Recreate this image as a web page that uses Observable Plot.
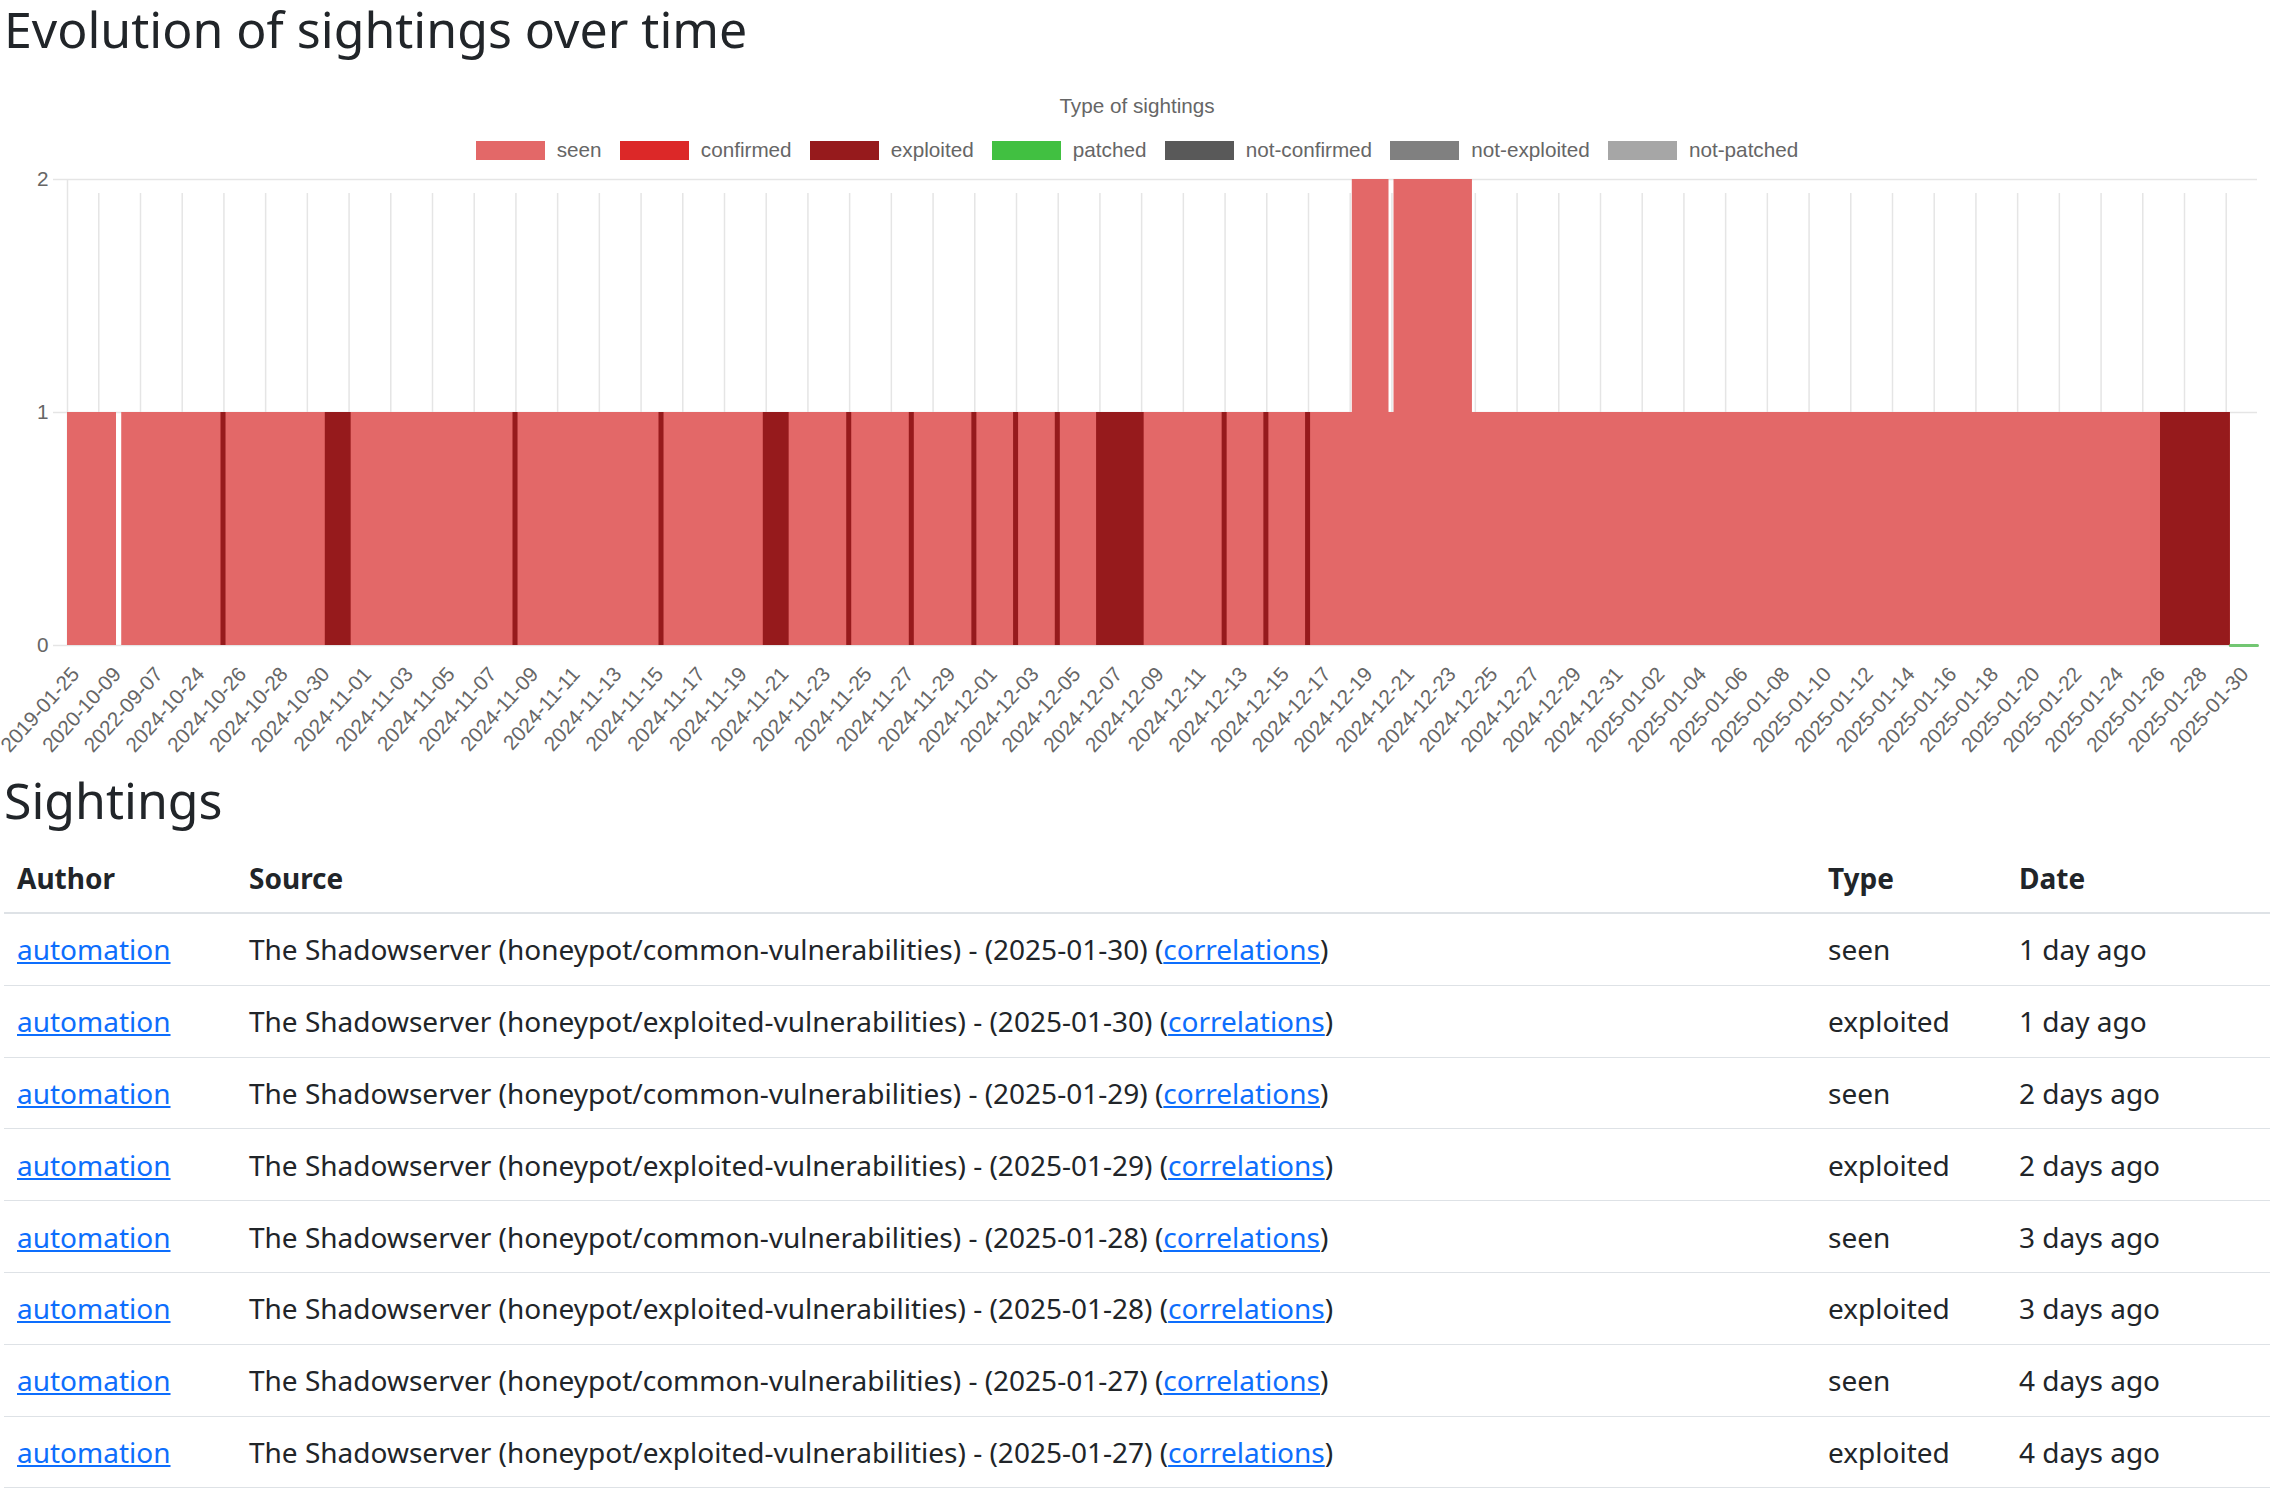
<!DOCTYPE html>
<html>
<head>
<meta charset="utf-8">
<script src="https://cdn.jsdelivr.net/npm/d3@7"></script>
<script src="https://cdn.jsdelivr.net/npm/@observablehq/plot@0.6"></script>
<style>
  html, body { margin: 0; padding: 0; background: #fff; overflow: hidden; }
  body { width: 2282px; height: 1501px; position: relative; font-family: "Noto Sans", sans-serif; color: #212529; }
  .h { position: absolute; left: 4px; margin: 0; font-weight: 400; font-size: 50px; line-height: 1.1; color: #212529; white-space: nowrap; }
  #legend-title { position: absolute; left: 0; width: 2274px; top: 94px; text-align: center;
    font-family: "Liberation Sans", Arial, sans-serif; font-size: 20.7px; line-height: 24px; color: #666; }
  #legend { position: absolute; left: 0; width: 2274px; top: 138px; height: 24px; display: flex; justify-content: center; align-items: center;
    font-family: "Liberation Sans", Arial, sans-serif; font-size: 20.7px; color: #666; }
  .item { display: flex; align-items: center; margin: 0 9.1px; }
  .box { width: 69px; height: 19px; margin-right: 12px; box-sizing: border-box; }
  #chart { position: absolute; left: 0; top: 170px; }
  .row { position: absolute; left: 4px; width: 2266px; height: 71.8px; box-sizing: border-box; border-bottom: 1px solid #dee2e6; font-size: 28px; }
  .row.head { border-bottom: 2px solid #dee2e6; font-weight: 700; height: 71px; }
  .cell { position: absolute; top: 0; height: 100%; display: flex; align-items: center; white-space: nowrap; }
  a { color: #0d6efd; text-decoration: underline; }
</style>
</head>
<body>
<div class="h" id="title" style="top:2px">Evolution of sightings over time</div>
<div id="legend-title">Type of sightings</div>
<div id="legend"></div>
<div id="chart"></div>
<div class="h" id="sightings" style="top:773px">Sightings</div>
<div id="table"></div>
<script>
// ---------- chart data ----------
// Printed x labels: one every other category (category index = 2 * position in this list)
const tickLabels = [
  "2019-01-25","2020-10-09","2022-09-07","2024-10-24","2024-10-26","2024-10-28","2024-10-30",
  "2024-11-01","2024-11-03","2024-11-05","2024-11-07","2024-11-09","2024-11-11","2024-11-13",
  "2024-11-15","2024-11-17","2024-11-19","2024-11-21","2024-11-23","2024-11-25","2024-11-27",
  "2024-11-29","2024-12-01","2024-12-03","2024-12-05","2024-12-07","2024-12-09","2024-12-11",
  "2024-12-13","2024-12-15","2024-12-17","2024-12-19","2024-12-21","2024-12-23","2024-12-25",
  "2024-12-27","2024-12-29","2024-12-31","2025-01-02","2025-01-04","2025-01-06","2025-01-08",
  "2025-01-10","2025-01-12","2025-01-14","2025-01-16","2025-01-18","2025-01-20","2025-01-22",
  "2025-01-24","2025-01-26","2025-01-28","2025-01-30"
];
// x extent of the chart, in category units
const xDomain = [0.5, 105.5];
const yTicks = [0, 1, 2];

// "seen" sightings: stepped count, each value held until the next break (category units)
const seenSteps = [
  {at: 0.5, count: 1}, {at: 2.85, count: 0}, {at: 3.1, count: 1},
  {at: 62.1, count: 2}, {at: 63.86, count: 1}, {at: 64.1, count: 2},
  {at: 67.86, count: 1}, {at: 104.2, count: 1}
];
// "exploited" sightings: runs where the exploited count (1) is shown
const exploitedRuns = [
  {from: 7.86, to: 8.1, count: 1},   {from: 12.86, to: 14.1, count: 1},
  {from: 21.86, to: 22.1, count: 1}, {from: 28.86, to: 29.1, count: 1},
  {from: 33.86, to: 35.1, count: 1}, {from: 37.86, to: 38.1, count: 1},
  {from: 40.86, to: 41.1, count: 1}, {from: 43.86, to: 44.1, count: 1},
  {from: 45.86, to: 46.1, count: 1}, {from: 47.86, to: 48.1, count: 1},
  {from: 49.84, to: 52.12, count: 1},{from: 55.86, to: 56.1, count: 1},
  {from: 57.86, to: 58.1, count: 1}, {from: 59.86, to: 60.1, count: 1},
  {from: 100.85, to: 104.2, count: 1}
];
// "patched" sightings: zero count, visible past the last sighting
const patchedSteps = [{at: 104.2, count: 0}, {at: 105.5, count: 0}];

const seriesNames  = ["seen","confirmed","exploited","patched","not-confirmed","not-exploited","not-patched"];
const seriesColors = ["#e36868","#dc2828","#961a1c","#41c041","#595959","#808080","#a6a6a6"];
const gridColor = "#e5e5e5";

// ---------- table data ----------
const sightingAuthors = Array(8).fill("automation");
const sightingSources = [
  "The Shadowserver (honeypot/common-vulnerabilities) - (2025-01-30)",
  "The Shadowserver (honeypot/exploited-vulnerabilities) - (2025-01-30)",
  "The Shadowserver (honeypot/common-vulnerabilities) - (2025-01-29)",
  "The Shadowserver (honeypot/exploited-vulnerabilities) - (2025-01-29)",
  "The Shadowserver (honeypot/common-vulnerabilities) - (2025-01-28)",
  "The Shadowserver (honeypot/exploited-vulnerabilities) - (2025-01-28)",
  "The Shadowserver (honeypot/common-vulnerabilities) - (2025-01-27)",
  "The Shadowserver (honeypot/exploited-vulnerabilities) - (2025-01-27)"
];
const sightingTypes = ["seen","exploited","seen","exploited","seen","exploited","seen","exploited"];
const sightingDates = ["1 day ago","1 day ago","2 days ago","2 days ago","3 days ago","3 days ago","4 days ago","4 days ago"];

// ---------- legend ----------
const legend = document.getElementById("legend");
seriesNames.forEach((name, i) => {
  const item = document.createElement("div");
  item.className = "item";
  const box = document.createElement("div");
  box.className = "box";
  box.style.background = seriesColors[i];
  const label = document.createElement("span");
  label.textContent = name;
  item.append(box, label);
  legend.append(item);
});

// ---------- chart ----------
const labelTicks = tickLabels.map((_, k) => 2 * k);
const gridTicks = labelTicks.filter(t => t >= xDomain[0]);
const color = Object.fromEntries(seriesNames.map((n, i) => [n, seriesColors[i]]));

const chart = Plot.plot({
  width: 2282,
  height: 600,
  marginLeft: 67,
  marginRight: 25,
  marginTop: 9,
  marginBottom: 125,
  x: {type: "linear", domain: xDomain, label: null},
  y: {domain: [0, 2], label: null},
  style: {fontFamily: "'Liberation Sans', Arial, sans-serif", fontSize: "20.7px", color: "#666", background: "#fff", overflow: "visible"},
  marks: [
    Plot.ruleY(yTicks, {y: d => d, stroke: gridColor, strokeWidth: 1.5, insetLeft: -14}),
    Plot.ruleX([xDomain[0]], {x: d => d, y1: 0, y2: 2, stroke: gridColor, strokeWidth: 1.5}),
    Plot.ruleX(gridTicks, {x: d => d, y1: 0, y2: 2, stroke: gridColor, strokeWidth: 1.5, insetBottom: -14}),
    Plot.areaY(seenSteps, {x: "at", y1: 0, y2: "count", curve: "step-after", fill: color.seen}),
    Plot.rect(exploitedRuns, {x1: "from", x2: "to", y1: 0, y2: "count", fill: color.exploited}),
    Plot.lineY(patchedSteps, {x: "at", y: "count", stroke: "#72c672", strokeWidth: 3}),
    Plot.axisX({ticks: labelTicks, tickFormat: i => tickLabels[i / 2], tickRotate: -48, tickSize: 0, tickPadding: 25, dx: 18.5, fill: "#666", fontSize: 20.7, label: null}),
    Plot.axisY({ticks: yTicks, tickFormat: d3.format("d"), tickSize: 0, tickPadding: 19, fill: "#666", fontSize: 20.7, label: null})
  ]
});
document.getElementById("chart").append(chart);

// ---------- table ----------
const table = document.getElementById("table");
const colX = [13, 245, 1824, 2015];
function makeRow(top, cells, cls) {
  const row = document.createElement("div");
  row.className = "row" + (cls ? " " + cls : "");
  row.style.top = top + "px";
  cells.forEach((c, j) => {
    const cell = document.createElement("div");
    cell.className = "cell";
    cell.style.left = colX[j] + "px";
    if (typeof c === "string") cell.textContent = c; else cell.append(...c);
    row.append(cell);
  });
  table.append(row);
}
makeRow(843, ["Author", "Source", "Type", "Date"], "head");
sightingSources.forEach((src, i) => {
  const a = document.createElement("a"); a.href = "#"; a.textContent = sightingAuthors[i];
  const corr = document.createElement("a"); corr.href = "#"; corr.textContent = "correlations";
  const span = document.createElement("span");
  span.append(document.createTextNode(src + " ("), corr, document.createTextNode(")"));
  makeRow(914 + i * 71.8, [[a], [span], sightingTypes[i], sightingDates[i]]);
});
</script>
</body>
</html>
